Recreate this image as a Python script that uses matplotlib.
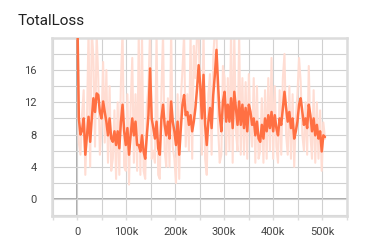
import numpy as np
import matplotlib
matplotlib.use("Agg")
import matplotlib.pyplot as plt
from matplotlib.ticker import MultipleLocator, FuncFormatter

title = "TotalLoss"
last_step = 506000

smoothed = [
    24.0, 10.0, 8.0, 8.5, 10.0, 5.5, 7.9, 10.2, 7.1, 10.0,
    12.5, 10.8, 13.1, 12.9, 10.8, 10.0, 12.1, 10.8, 9.6, 7.9,
    10.0, 7.5, 7.1, 8.4, 6.7, 8.4, 6.3, 9.6, 11.7, 8.4,
    6.7, 8.8, 5.5, 7.9, 10.0, 7.9, 9.6, 6.7,
    6.7, 5.9, 7.9, 5.9, 5.0, 7.9, 10.4, 16.2, 10.0, 8.8,
    7.5, 9.6, 6.3, 5.5, 10.0, 11.7, 9.2, 7.9, 9.6, 7.5,
    12.1, 9.6, 8.4, 6.7, 9.6, 5.5, 8.8, 11.7, 12.9, 10.4,
    10.8, 9.2, 10.4, 8.4, 9.6, 11.3, 13.7, 16.6,
    14.1, 10.0, 15.4, 9.2, 6.7, 9.6, 11.3, 8.8, 12.9, 15.4,
    18.5, 14.1, 10.4, 8.4, 12.1, 13.3, 9.6, 11.7, 9.6, 12.5,
    8.8, 13.3, 11.3, 9.2, 12.1, 9.2, 11.7, 8.8, 11.3, 8.4,
    11.7, 10.8, 9.2, 10.0, 7.9, 9.6, 7.5, 7.1,
    9.2, 7.5, 10.0, 8.4, 10.4, 8.8, 10.8, 8.4, 10.4, 8.8,
    7.9, 10.0, 9.2, 11.3, 13.3, 11.3, 9.6, 10.8, 8.8, 10.0,
    7.5, 8.4, 9.6, 11.7, 12.5, 10.8, 9.2, 10.0, 8.8, 11.7,
    10.4, 8.4, 10.0, 7.9, 9.2, 7.5, 8.4, 5.9, 7.9, 7.7,
]

raw = [
    28.0, 7.0, 5.5, 10.5, 13.5, 3.0, 9.5, 21.0, 4.0, 21.0,
    17.5, 6.5, 20.5, 15.0, 5.5, 9.0, 17.0, 7.0, 16.0, 4.5,
    14.0, 3.5, 5.0, 11.0, 2.5, 12.0, 3.0, 14.5, 21.0, 4.0,
    3.5, 13.0, 1.8, 11.5, 17.5, 4.5, 13.0, 3.5,
    20.5, 3.0, 20.5, 3.5, 2.5, 11.5, 14.0, 21.0, 5.0, 6.0,
    4.5, 20.5, 3.0, 2.5, 13.5, 20.5, 6.0, 4.0, 12.5, 4.0,
    21.0, 6.5, 5.0, 2.0, 13.0, 2.5, 12.5, 16.0, 20.5, 6.5,
    13.0, 6.0, 20.5, 5.0, 19.0, 15.0, 20.5, 21.0,
    10.5, 5.5, 21.0, 5.0, 3.0, 13.0, 15.5, 5.5, 17.5, 21.0,
    21.5, 9.0, 4.5, 5.5, 16.5, 15.0, 5.5, 15.0, 6.0, 21.0,
    4.5, 20.5, 8.5, 6.0, 20.5, 5.5, 15.0, 5.5, 14.5, 5.0,
    15.5, 9.0, 6.5, 15.0, 4.5, 14.0, 5.0, 6.0,
    12.5, 4.5, 13.5, 5.0, 15.0, 6.0, 17.5, 5.0, 14.0, 6.5,
    4.5, 13.5, 5.5, 15.0, 18.0, 8.0, 5.5, 14.0, 5.0, 13.0,
    4.0, 10.0, 13.0, 17.5, 14.5, 8.0, 6.0, 12.0, 5.5, 16.5,
    8.0, 5.0, 13.5, 4.5, 12.0, 5.0, 11.0, 3.5, 9.5, 7.5,
]

steps = np.linspace(0, last_step, len(smoothed))

W, H = 391, 245
fig = plt.figure(figsize=(W / 100, H / 100), dpi=100)
ax = fig.add_axes([52 / W, 1 - 216 / H, (347 - 52) / W, (216 - 38) / H])

line_color = "#ff7043"
ax.plot(steps, raw, color="#ffddd3", lw=1.5, zorder=2, solid_joinstyle="round")
ax.plot(steps, smoothed, color=line_color, lw=1.8, zorder=3,
        solid_joinstyle="round", solid_capstyle="round")

ax.set_xlim(-51500, 551000)
ax.set_ylim(-2.1, 19.97)

ax.xaxis.set_major_locator(MultipleLocator(100000))
ax.xaxis.set_minor_locator(MultipleLocator(50000))
ax.yaxis.set_major_locator(MultipleLocator(4))
ax.yaxis.set_minor_locator(MultipleLocator(2))
ax.xaxis.set_major_formatter(FuncFormatter(lambda v, p: "0" if v == 0 else f"{int(v/1000)}k"))
ax.yaxis.set_major_formatter(FuncFormatter(lambda v, p: f"{int(round(v))}"))

ax.grid(True, which="both", color="#d0d0d0", lw=0.8, zorder=0)
ax.axhline(0, color="#9e9e9e", lw=1.2, zorder=1)
ax.axvline(0, color="#9e9e9e", lw=1.2, zorder=1)

for side in ["left", "right", "top", "bottom"]:
    ax.spines[side].set_color("#dcdcdc")
    ax.spines[side].set_linewidth(1.8)

ax.tick_params(axis="x", which="both", length=3, color="#dcdcdc", width=1,
               labelsize=8, labelcolor="#444444", pad=5)
ax.tick_params(axis="y", which="both", length=0, labelsize=8,
               labelcolor="#444444", pad=11)

for lbl in ax.get_xticklabels() + ax.get_yticklabels():
    lbl.set_family(["Roboto", "DejaVu Sans"])

fig.text(18 / W, 1 - 25 / H, title, fontsize=11, color="#212121",
         family=["Roboto", "DejaVu Sans"], va="baseline", ha="left")

fig.savefig("out.png", dpi=100)
